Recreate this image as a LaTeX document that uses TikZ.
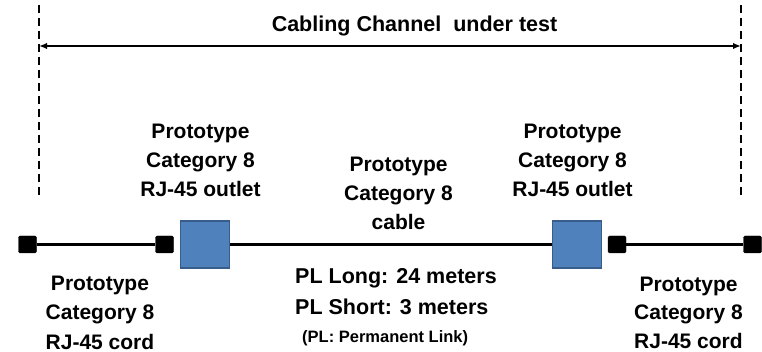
\documentclass[tikz,border=0pt]{standalone}
\usepackage{fontspec}
\setmainfont{Liberation Sans}
\usetikzlibrary{arrows.meta}
\definecolor{boxblue}{HTML}{4F81BD}
\definecolor{boxedge}{HTML}{385D8A}
\tikzset{
  lbl/.style={font=\fontsize{21}{29}\selectfont\bfseries, align=center, inner sep=0pt, anchor=base},
  plbl/.style={font=\fontsize{21.5}{31}\selectfont\bfseries, align=left, inner sep=0pt, anchor=base west},
  small/.style={font=\fontsize{16.5}{20}\selectfont\bfseries, inner sep=0pt, anchor=base west},
  plug/.style={draw=black, fill=black, rounded corners=1.5pt, minimum width=18pt, minimum height=17pt, inner sep=0pt},
  outletbox/.style={draw=boxedge, fill=boxblue, line width=1.3pt, minimum width=49pt, minimum height=47pt, inner sep=0pt},
  wire/.style={line width=2.4pt},
  boundary/.style={line width=2.4pt, dash pattern=on 8pt off 5pt},
  span/.style={line width=2.4pt, {Latex[length=8pt,width=6.5pt]}-{Latex[length=8pt,width=6.5pt]}}
}
\begin{document}
\begin{tikzpicture}[x=1pt,y=-1pt]
\useasboundingbox (0,0) rectangle (762,352);
% boundaries
\coordinate (lt) at (39,5);
\coordinate (lb) at (39,197);
\coordinate (rt) at (741,5);
\coordinate (rb) at (741,197);
\draw[boundary] (lt) -- (lb);
\draw[boundary] (rt) -- (rb);
\coordinate (al) at (39,46);
\coordinate (ar) at (741,46);
\draw[span] (al) -- (ar);
\node[lbl, font=\fontsize{21.5}{29}\selectfont\bfseries] (title) at (414.5,32) {Cabling Channel\ \ under test};
% components
\node[plug] (b1) at (27.5,244.5) {};
\node[plug] (b2) at (164.5,244.5) {};
\node[outletbox] (o1) at (205,244.5) {};
\node[outletbox] (o2) at (577,244.5) {};
\node[plug] (b3) at (617,244.5) {};
\node[plug] (b4) at (752.5,244.5) {};
\draw[wire] (b1) -- (b2);
\draw[wire] (o1) -- (o2);
\draw[wire] (b3) -- (b4);
% labels
\node[lbl] (t1) at (200.5,197) {Prototype\\Category 8\\RJ-45 outlet};
\node[lbl] (t2) at (572.5,197) {Prototype\\Category 8\\RJ-45 outlet};
\node[lbl] (t3) at (398.5,230) {Prototype\\Category 8\\cable};
\node[lbl, font=\fontsize{21}{29.5}\selectfont\bfseries] (t4) at (100,349) {Prototype\\Category 8\\RJ-45 cord};
\node[lbl, font=\fontsize{21}{28.5}\selectfont\bfseries] (t5) at (688.5,348) {Prototype\\Category 8\\RJ-45 cord};
\node[plbl] (pl) at (295,314) {PL Long: 24 meters\\PL Short: 3 meters};
\node[small] (pln) at (302,342) {(PL: Permanent Link)};
\end{tikzpicture}
\end{document}
